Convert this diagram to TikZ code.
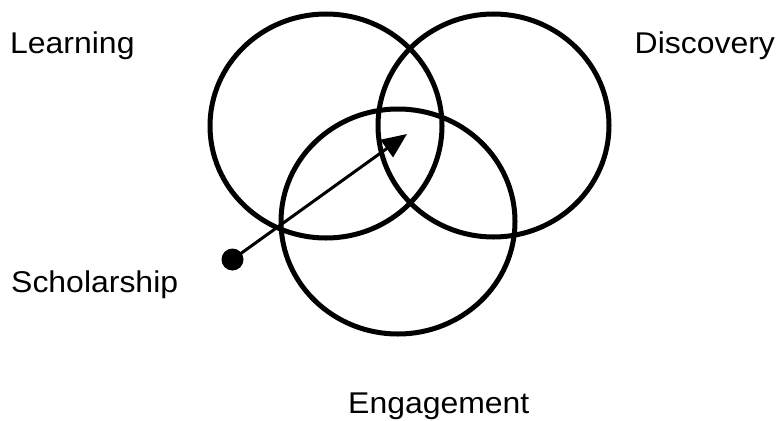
\documentclass[tikz,border=0pt]{standalone}
\usepackage{fontspec}
\usepackage{graphicx}
\setmainfont{Liberation Sans}
\usetikzlibrary{arrows.meta}
\newcommand{\widetext}[1]{\scalebox{1.065}[1]{#1}}
\tikzset{
  ring/.style={line width=5pt},
  lbl/.style={anchor=base west, inner sep=0pt, font=\fontsize{30}{36}\selectfont},
}
\begin{document}
\begin{tikzpicture}[x=1pt, y=-1pt, >={Triangle[length=25pt,width=21pt]}]
\useasboundingbox (0,0) rectangle (778,420);
\draw[ring](326,126) ellipse [x radius=116, y radius=112];
\draw[ring](493.5,125.5) ellipse [x radius=115.5, y radius=111.5];
\draw[ring](398,221.5) ellipse [x radius=117, y radius=112.5];
\node[lbl] (learning) at (10,53) {\widetext{Learning}};
\node[lbl] (discovery) at (634.5,53) {\widetext{Discovery}};
\node[lbl] (scholarship) at (11,292) {\widetext{Scholarship}};
\node[lbl] (engagement) at (348,413) {\widetext{Engagement}};
\node[circle, fill, inner sep=0pt, minimum size=22pt] (dot) at (232.5,259.5) {};
\coordinate (tip) at (407,134);
\draw[->, line width=3pt](dot.center)--(tip);
\end{tikzpicture}
\end{document}
